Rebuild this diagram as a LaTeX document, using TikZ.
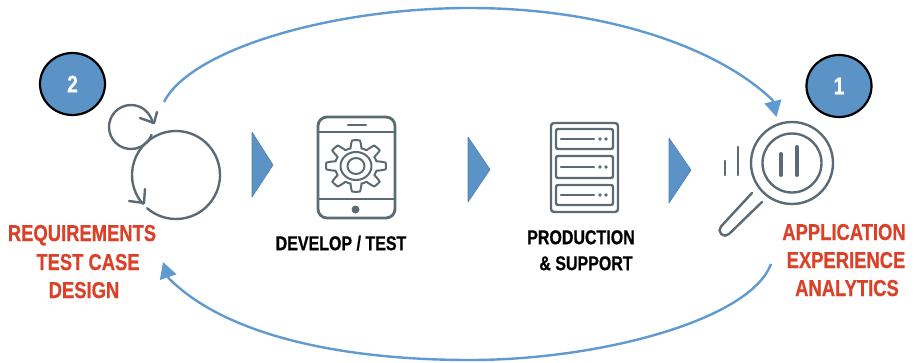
\documentclass[tikz,border=0pt]{standalone}
\usepackage{fontspec}
\setmainfont{Liberation Sans}
\newfontfamily\narrowbold[FakeStretch=0.80,FakeBold=0.6]{Liberation Sans}[BoldFont={Liberation Sans Bold}]
\usetikzlibrary{arrows.meta,shapes.geometric}
\definecolor{flowblue}{HTML}{5F9BD0}
\definecolor{fillblue}{HTML}{5B93C7}
\definecolor{edgeblue}{HTML}{4F7FB0}
\definecolor{icongrey}{HTML}{5C6B73}
\definecolor{labelred}{HTML}{DB4029}
\tikzset{
  redlabel/.style={inner sep=0pt,text=labelred,font=\narrowbold\bfseries\fontsize{23}{23}\selectfont,text height=16pt,text depth=0pt},
  blacklabel/.style={inner sep=0pt,text=black,font=\narrowbold\bfseries\fontsize{20}{20}\selectfont,text height=14.4pt,text depth=0pt},
  badge/.style={draw=black,line width=2.2pt,fill=fillblue,ellipse,minimum width=65pt,minimum height=62pt,inner sep=0pt,text=white,font=\narrowbold\bfseries\fontsize{24}{24}\selectfont},
  flowarc/.style={draw=flowblue,line width=2.4pt,-{Triangle[length=16pt,width=17pt]}},
  chevron/.style={draw=edgeblue,line width=.6pt,fill=fillblue,line join=round},
  icon/.style={draw=icongrey,line width=2.4pt,line cap=round,line join=round},
  iconthin/.style={draw=icongrey,line width=2pt,line cap=round,line join=round},
  iconthick/.style={draw=icongrey,line width=4pt,line cap=round},
}
\begin{document}
\begin{tikzpicture}[x=1pt,y=1pt,yscale=-1]
\useasboundingbox (0,0) rectangle (914,362);
% badges
\node[badge] (b2) at (72.5,84) {2};
\node[badge] (b1) at (839,86) {1};
% flow arcs
\coordinate (topstart) at (164,102);
\coordinate (topbase) at (772.5,100);
\coordinate (toptip) at (776.5,117);
\coordinate (botstart) at (771,264);
\coordinate (botbase) at (168.5,278);
\coordinate (bottip) at (163,262);
\draw[flowarc] (topstart) .. controls (190,50) and (330,8) .. (470,8) .. controls (600,8) and (715,45) .. (topbase) -- (toptip);
\draw[flowarc] (botstart) .. controls (750,320) and (600,360) .. (470,360) .. controls (340,360) and (225,335) .. (botbase) -- (bottip);
% loop icon
\draw[icon] (176,175) ++(131:44pt) arc[start angle=131,end angle=-118,radius=44pt];
\draw[icon] (176,175) ++(242:44pt) arc[start angle=242,end angle=139,radius=44pt];
\draw[icon] (129,201) -- (144,203) -- (145,189);
\draw[icon] (131,127) ++(21:22pt) arc[start angle=21,end angle=350,radius=22pt];
\draw[icon] (140,118) -- (154,123) -- (157,112);
% chevrons
\draw[chevron] (252,132) -- (273,165) -- (252,197) -- cycle;
\draw[chevron] (468,137) -- (490,169.5) -- (468,202) -- cycle;
\draw[chevron] (669,138) -- (691,170) -- (669,203) -- cycle;
% tablet
\draw[icon,line width=2.8pt,rounded corners=9pt] (318,117) rectangle (395,218);
\draw[icon] (318,132) -- (395,132);
\draw[icon] (318,199) -- (395,199);
\draw[icon] (348,125) -- (366,125);
\fill[icongrey] (355.5,209.5) circle (4pt);
\draw[iconthin,smooth] plot[domain=0:360,samples=193]
  ({356+1.16*(22+3.8*max(min(2*cos(8*\x),1),-1))*cos(\x)},
   {166+(22+3.8*max(min(2*cos(8*\x),1),-1))*sin(\x)});
\draw[iconthin] (356,166) ellipse (15.5pt and 14pt);
\draw[iconthin] (356,166) ellipse (8.5pt and 8pt);
% server
\draw[icon,rounded corners=3pt] (551,123) rectangle (618,212);
\foreach \ya/\yb in {129/149,156/178,185/205}{
  \draw[icon,rounded corners=2pt] (556,\ya) rectangle (613,\yb);
  \draw[icon] (561,{(\ya+\yb)/2}) -- (594,{(\ya+\yb)/2});
  \fill[icongrey] (600,{(\ya+\yb)/2}) circle (1.9pt) (606,{(\ya+\yb)/2}) circle (1.9pt);
}
% magnifier
\draw[icon] (792,163) circle (41pt);
\draw[icon] (792,163) circle (29.5pt);
\draw[iconthick] (781,154) -- (781,175);
\draw[iconthick] (797,147) -- (797,175);
\draw[icon] (725,161) -- (725,175);
\draw[icon] (738,147) -- (738,175);
\draw[icon] (762,202) -- (729,234) arc[start angle=44,end angle=224,radius=5.5pt] -- (752,193);
% labels
\node[redlabel] (req) at (82,233) {REQUIREMENTS};
\node[redlabel] (tc) at (88,262) {TEST CASE};
\node[redlabel] (des) at (84,290) {DESIGN};
\node[redlabel] (app) at (844,232) {APPLICATION};
\node[redlabel] (exp) at (846,260) {EXPERIENCE};
\node[redlabel] (ana) at (847,288) {ANALYTICS};
\node[blacklabel] (dev) at (341,243) {DEVELOP / TEST};
\node[blacklabel] (prod) at (581,237) {PRODUCTION};
\node[blacklabel] (sup) at (586,263) {\& SUPPORT};
\end{tikzpicture}
\end{document}
